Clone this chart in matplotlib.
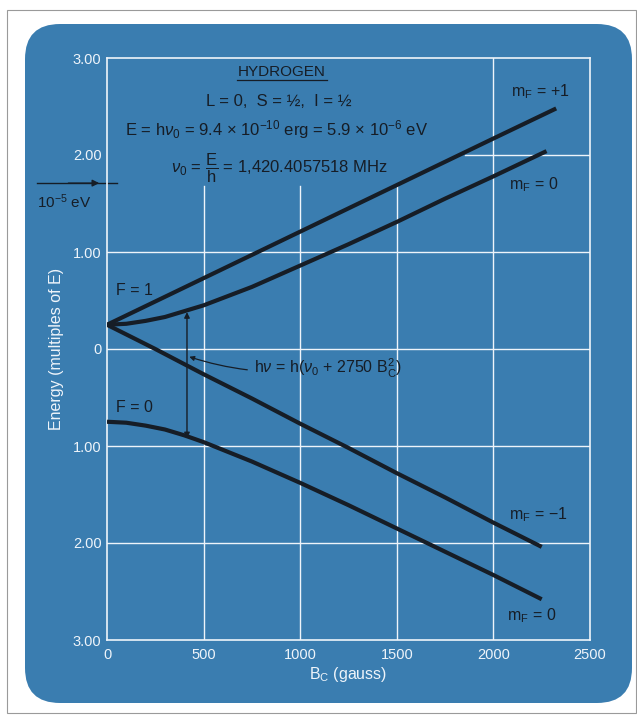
"""Breit-Rabi diagram for hydrogen, redrawn from a scanned figure."""

import matplotlib
matplotlib.use("Agg")
import matplotlib.pyplot as plt
from matplotlib.patches import FancyBboxPatch, Rectangle

plt.rcParams["font.family"] = ["Liberation Sans", "DejaVu Sans"]
plt.rcParams["mathtext.fontset"] = "custom"
plt.rcParams["mathtext.rm"] = "Liberation Sans"
plt.rcParams["mathtext.it"] = "Liberation Sans:italic"
plt.rcParams["mathtext.bf"] = "Liberation Sans:bold"

# field values (gauss) and energies (multiples of E)
b_plus = [0, 250, 500, 750, 1000, 1250, 1500, 1750, 2000, 2325]
e_plus = [0.25, 0.49, 0.73, 0.97, 1.21, 1.45, 1.69, 1.93, 2.17, 2.48]

b_minus = [0, 250, 500, 750, 1000, 1250, 1500, 1750, 2000, 2250]
e_minus = [0.25, 0.00, -0.26, -0.51, -0.77, -1.02, -1.28, -1.53, -1.79, -2.04]

b_up0 = [0, 100, 200, 300, 400, 500, 750, 1000, 1250, 1500, 1750, 2000, 2275]
e_up0 = [0.25, 0.26, 0.29, 0.33, 0.39, 0.45, 0.64, 0.86, 1.08, 1.31, 1.55, 1.78, 2.04]

b_low0 = [0, 100, 200, 300, 400, 500, 750, 1000, 1250, 1500, 1750, 2000, 2250]
e_low0 = [-0.75, -0.76, -0.79, -0.83, -0.89, -0.96, -1.16, -1.38, -1.61, -1.85,
          -2.09, -2.33, -2.58]

x_ticks = [0, 500, 1000, 1500, 2000, 2500]
y_ticks = [-3, -2, -1, 0, 1, 2, 3]
y_tick_labels = ["3.00", "2.00", "1.00", "0", "1.00", "2.00", "3.00"]

transition_b = 414
transition_lo = -0.92
transition_hi = 0.38

PANEL = "#3a7db0"
INK = "#161d26"
LIGHT = "#eef4fa"

fig = plt.figure(figsize=(6.37, 7.17), dpi=100, facecolor="white")

# scanned page frame and rounded blue panel, kept behind the axes
fig.patches.append(Rectangle((7 / 637, 1 - 713 / 717), 629 / 637, 703 / 717,
                             transform=fig.transFigure, fill=False,
                             edgecolor="#9a9a9a", lw=0.8, zorder=-20))
fig.patches.append(FancyBboxPatch((25 / 637, 1 - 703 / 717), 607 / 637, 679 / 717,
                                  boxstyle="round,pad=0,rounding_size=0.055",
                                  transform=fig.transFigure, facecolor=PANEL,
                                  edgecolor="none", mutation_aspect=637 / 717,
                                  zorder=-10))

ax = fig.add_axes([107 / 637, 1 - 640 / 717, 483 / 637, 582 / 717])
ax.set_facecolor("none")
ax.set_xlim(0, 2500)
ax.set_ylim(-3, 3)

for side in ax.spines.values():
    side.set_color(LIGHT)
    side.set_linewidth(1.2)

ax.set_xticks(x_ticks)
ax.set_yticks(y_ticks)
ax.set_yticklabels(y_tick_labels)
ax.tick_params(length=0, colors=LIGHT, labelsize=10.5, pad=4)
ax.tick_params(axis="x", pad=6)

# grid, partly hidden behind the text block at the top
grid_kw = dict(color=LIGHT, lw=1.0, zorder=1)
for b in x_ticks[1:4]:
    ax.plot([b, b], [-3, 1.68], **grid_kw)
ax.plot([2000, 2000], [-3, 3], **grid_kw)
for e in [-2, -1, 0, 1]:
    ax.plot([0, 2500], [e, e], **grid_kw)
ax.plot([1855, 2500], [2, 2], **grid_kw)

line_kw = dict(color=INK, lw=3.0, solid_capstyle="butt", zorder=3)
ax.plot(b_plus, e_plus, **line_kw)
ax.plot(b_up0, e_up0, **line_kw)
ax.plot(b_minus, e_minus, **line_kw)
ax.plot(b_low0, e_low0, **line_kw)

ax.set_xlabel(r"B$_\mathrm{C}$ (gauss)", color=LIGHT, fontsize=11.5, labelpad=2)
ax.set_ylabel("Energy (multiples of E)", color=LIGHT, fontsize=11.5, labelpad=6)

txt = dict(color=INK, ha="center", va="center", fontsize=12)
ax.text(906, 2.86, "HYDROGEN", **dict(txt, fontsize=11))
ax.plot([673, 1139], [2.775, 2.775], color=INK, lw=0.9)
ax.text(890, 2.55, r"L = 0,  S = ½,  I = ½", **txt)
ax.text(880, 2.26, r"E = h$\nu_0$ = 9.4 × 10$^{-10}$ erg = 5.9 × 10$^{-6}$ eV", **txt)
ax.text(895, 1.86, r"$\nu_0$ = $\dfrac{\mathrm{E}}{\mathrm{h}}$ = 1,420.4057518 MHz", **txt)

lab = dict(txt, fontsize=11.5)
ax.text(2245, 2.65, r"m$_\mathrm{F}$ = +1", **lab)
ax.text(2210, 1.69, r"m$_\mathrm{F}$ = 0", **lab)
ax.text(2230, -1.71, r"m$_\mathrm{F}$ = −1", **lab)
ax.text(2200, -2.75, r"m$_\mathrm{F}$ = 0", **lab)
ax.text(140, 0.60, "F = 1", **lab)
ax.text(140, -0.60, "F = 0", **lab)

# transition arrow and its label
ax.annotate("", xy=(transition_b, transition_hi), xytext=(transition_b, transition_lo),
            arrowprops=dict(arrowstyle="<|-|>", color=INK, lw=1.0,
                            mutation_scale=8, shrinkA=0, shrinkB=0))
ax.annotate(r"h$\nu$ = h($\nu_0$ + 2750 B$_\mathrm{C}^2$)",
            xy=(transition_b + 12, -0.08), xytext=(762, -0.20),
            color=INK, fontsize=11.5, ha="left", va="center",
            arrowprops=dict(arrowstyle="-|>", color=INK, lw=0.9,
                            mutation_scale=7, shrinkA=3, shrinkB=0,
                            connectionstyle="arc3,rad=-0.12"))

# 10^-5 eV scale marker left of the axis
ax.plot([-362, 52], [1.71, 1.71], color=INK, lw=1.0, clip_on=False)
ax.annotate("", xy=(-40, 1.71), xytext=(-200, 1.71),
            arrowprops=dict(arrowstyle="-|>", color=INK, lw=1.0,
                            mutation_scale=10, shrinkA=0, shrinkB=0),
            annotation_clip=False)
ax.text(-362, 1.52, r"10$^{-5}$ eV", color=INK, fontsize=11, ha="left",
        va="center", clip_on=False)

fig.savefig("out.png", dpi=100, facecolor="white")
